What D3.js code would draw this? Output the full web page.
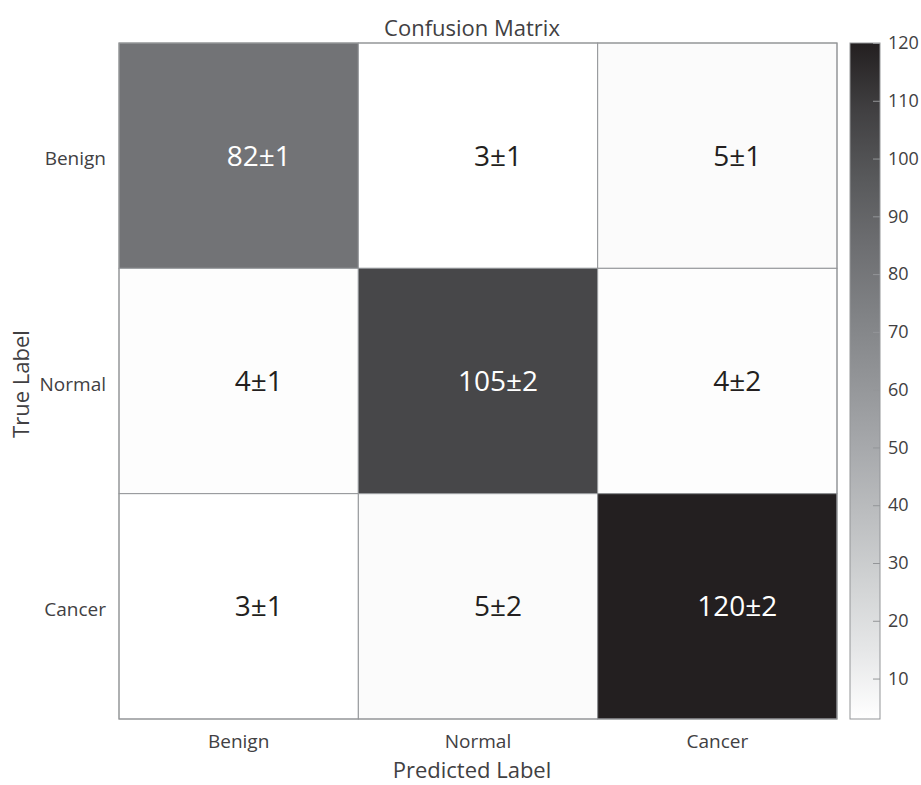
<!DOCTYPE html>
<html>
<head>
<meta charset="utf-8">
<script src="https://cdn.jsdelivr.net/npm/d3@7"></script>
<style>
  html, body { margin: 0; padding: 0; background: #ffffff; }
  svg text { font-family: "Open Sans", "Noto Sans", sans-serif; }
</style>
</head>
<body>
<svg id="chart" width="921" height="785"></svg>
<script>
// Class names for the rows (true) and columns (predicted)
const trueLabels = ["Benign", "Normal", "Cancer"];
const predictedLabels = ["Benign", "Normal", "Cancer"];

// Mean counts per cell, row = true class, column = predicted class
const meanCounts = [
  [82, 3, 5],
  [4, 105, 4],
  [3, 5, 120]
];
// Standard deviation per cell
const stdCounts = [
  [1, 1, 1],
  [1, 2, 2],
  [1, 2, 2]
];

// Colour bar range and tick values
const colorDomain = [3, 120];
const colorbarTicks = [10, 20, 30, 40, 50, 60, 70, 80, 90, 100, 110, 120];

// Grey ramp in 10% black steps, white to full black
const greyRamp = ["#ffffff", "#e6e7e8", "#d1d3d4", "#bcbec0", "#a7a9ac", "#939598",
                  "#808285", "#6d6e71", "#58595b", "#414042", "#231f20"];

const svg = d3.select("#chart");
const textColor = "#414042";
const lineColor = "#939598";

const plot = { left: 119, right: 837, top: 43, bottom: 719 };
const bar = { left: 850, width: 30 };

const x = d3.scaleBand().domain(predictedLabels).range([plot.left, plot.right]);
const y = d3.scaleBand().domain(trueLabels).range([plot.top, plot.bottom]);

const color = d3.scaleLinear()
  .domain(greyRamp.map((_, i) => colorDomain[0] + i * (colorDomain[1] - colorDomain[0]) / (greyRamp.length - 1)))
  .range(greyRamp)
  .interpolate(d3.interpolateRgb)
  .clamp(true);

const cells = [];
trueLabels.forEach((t, i) => {
  predictedLabels.forEach((p, j) => {
    cells.push({ t, p, mean: meanCounts[i][j], std: stdCounts[i][j] });
  });
});

// Matrix cells
svg.append("g").selectAll("rect")
  .data(cells)
  .join("rect")
  .attr("x", d => x(d.p))
  .attr("y", d => y(d.t))
  .attr("width", x.bandwidth())
  .attr("height", y.bandwidth())
  .attr("fill", d => color(d.mean))
  .attr("stroke", lineColor)
  .attr("stroke-width", 1);

// Cell annotations "mean±std"
svg.append("g").selectAll("text")
  .data(cells)
  .join("text")
  .attr("x", d => x(d.p) + x.bandwidth() / 2 + 20)
  .attr("y", d => y(d.t) + y.bandwidth() / 2)
  .attr("dy", "0.36em")
  .attr("text-anchor", "middle")
  .attr("font-size", 28)
  .attr("fill", d => d.mean > 60 ? "#ffffff" : "#231f20")
  .text(d => `${d.mean}±${d.std}`);

// Outer frame
svg.append("rect")
  .attr("x", plot.left).attr("y", plot.top)
  .attr("width", plot.right - plot.left).attr("height", plot.bottom - plot.top)
  .attr("fill", "none").attr("stroke", lineColor).attr("stroke-width", 1);

// Category axes
const yAxis = svg.append("g")
  .attr("transform", `translate(${plot.left},0)`)
  .call(d3.axisLeft(y).tickSize(0).tickPadding(13));
yAxis.select(".domain").remove();
yAxis.selectAll("text")
  .attr("font-size", 19).attr("fill", textColor).attr("dy", "0.5em");

const xAxis = svg.append("g")
  .attr("transform", `translate(0,${plot.bottom})`)
  .call(d3.axisBottom(x).tickSize(0).tickPadding(15.5));
xAxis.select(".domain").remove();
xAxis.selectAll("text")
  .attr("font-size", 19).attr("fill", textColor);

// Titles
svg.append("text")
  .attr("x", (plot.left + plot.right) / 2 - 6).attr("y", 36)
  .attr("text-anchor", "middle").attr("font-size", 22).attr("fill", textColor)
  .text("Confusion Matrix");

svg.append("text")
  .attr("x", (plot.left + plot.right) / 2 - 6).attr("y", 778)
  .attr("text-anchor", "middle").attr("font-size", 22).attr("fill", textColor)
  .text("Predicted Label");

svg.append("text")
  .attr("transform", `translate(29,${(plot.top + plot.bottom) / 2 + 3}) rotate(-90)`)
  .attr("text-anchor", "middle").attr("font-size", 22).attr("fill", textColor)
  .text("True Label");

// Colour bar
const cb = d3.scaleLinear().domain(colorDomain).range([plot.bottom, plot.top]);
const defs = svg.append("defs");
const grad = defs.append("linearGradient")
  .attr("id", "cbGrad")
  .attr("x1", 0).attr("y1", 1).attr("x2", 0).attr("y2", 0);
grad.selectAll("stop")
  .data(color.domain())
  .join("stop")
  .attr("offset", d => (d - colorDomain[0]) / (colorDomain[1] - colorDomain[0]))
  .attr("stop-color", d => color(d));

svg.append("rect")
  .attr("x", bar.left).attr("y", cb(colorDomain[1]))
  .attr("width", bar.width).attr("height", cb(colorDomain[0]) - cb(colorDomain[1]))
  .attr("fill", "url(#cbGrad)")
  .attr("stroke", lineColor).attr("stroke-width", 1);

const cbAxis = svg.append("g")
  .attr("transform", `translate(${bar.left + bar.width},0)`)
  .call(d3.axisRight(cb).tickValues(colorbarTicks).tickSize(-7).tickPadding(8));
cbAxis.select(".domain").remove();
cbAxis.selectAll("line").attr("stroke", lineColor);
cbAxis.selectAll("text").attr("font-size", 18).attr("fill", textColor);
</script>
</body>
</html>
